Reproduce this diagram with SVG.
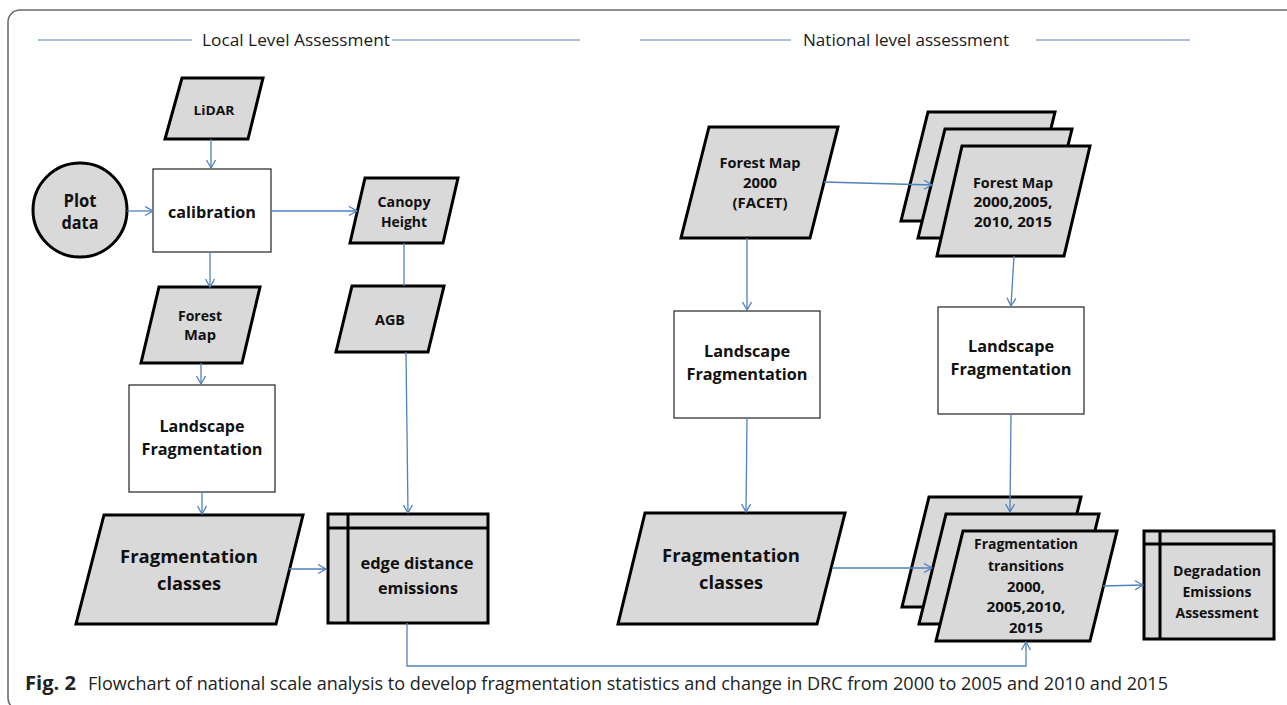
<svg xmlns="http://www.w3.org/2000/svg" width="1287" height="705" viewBox="0 0 1287 705">
  <defs>
    <marker id="arrow" markerUnits="userSpaceOnUse" markerWidth="12" markerHeight="12" refX="9" refY="5" orient="auto">
      <path d="M1,0.5 L9,5 L1,9.5" fill="none" stroke="#4f81bd" stroke-width="1.3"/>
    </marker>
    <style>
      .frame { fill: none; stroke: #6b6b6b; stroke-width: 1.6; }
      .rule { stroke: #4f81bd; stroke-width: 1.1; }
      .head { font-family: "Open Sans", "Liberation Sans", sans-serif; font-size: 16px; fill: #1a1a1a; }
      .data { fill: #d9d9d9; stroke: #000; stroke-width: 3; stroke-linejoin: miter; }
      .proc { fill: #fff; stroke: #333; stroke-width: 1.3; }
      .inner { stroke: #000; stroke-width: 3; }
      .lbl { font-family: "Open Sans", "Liberation Sans", sans-serif; font-weight: bold; fill: #111; text-anchor: middle; }
      .conn { fill: none; stroke: #4f81bd; stroke-width: 1.3; }
      .cap { font-family: "Open Sans", "Liberation Sans", sans-serif; font-size: 19px; fill: #222; }
    </style>
  </defs>

  <rect x="0" y="0" width="1287" height="705" fill="#fff"/>

  <!-- figure frame -->
  <rect class="frame" x="8" y="10" width="1300" height="700" rx="12"/>

  <!-- section headings -->
  <g id="heading-local">
    <line class="rule" x1="38" y1="40" x2="192" y2="40"/>
    <text class="head" x="202" y="46" textLength="188" lengthAdjust="spacingAndGlyphs">Local Level Assessment</text>
    <line class="rule" x1="392" y1="40" x2="580" y2="40"/>
  </g>
  <g id="heading-national">
    <line class="rule" x1="640" y1="40" x2="791" y2="40"/>
    <text class="head" x="803" y="46" textLength="206" lengthAdjust="spacingAndGlyphs">National level assessment</text>
    <line class="rule" x1="1036" y1="40" x2="1190" y2="40"/>
  </g>

  <!-- local level nodes -->
  <g id="lidar">
    <polygon class="data" points="182,78 263,78 248,139 165,139"/>
    <text class="lbl" x="214" y="115" font-size="13" textLength="41" lengthAdjust="spacingAndGlyphs">LiDAR</text>
  </g>
  <g id="plot-data">
    <circle class="data" cx="80" cy="210" r="47"/>
    <text class="lbl" x="80" y="207" font-size="17" textLength="33" lengthAdjust="spacingAndGlyphs">Plot</text>
    <text class="lbl" x="80" y="229" font-size="17" textLength="37" lengthAdjust="spacingAndGlyphs">data</text>
  </g>
  <g id="calibration">
    <rect class="proc" x="153" y="169" width="118" height="83"/>
    <text class="lbl" x="212" y="218" font-size="16.5" textLength="88" lengthAdjust="spacingAndGlyphs">calibration</text>
  </g>
  <g id="canopy-height">
    <polygon class="data" points="365,178 458,178 443,243 350,243"/>
    <text class="lbl" x="404" y="207" font-size="14" textLength="53" lengthAdjust="spacingAndGlyphs">Canopy</text>
    <text class="lbl" x="404" y="227" font-size="14" textLength="46" lengthAdjust="spacingAndGlyphs">Height</text>
  </g>
  <g id="forest-map">
    <polygon class="data" points="159,287 260,287 242,363 141,363"/>
    <text class="lbl" x="200" y="321" font-size="14" textLength="44" lengthAdjust="spacingAndGlyphs">Forest</text>
    <text class="lbl" x="200" y="340" font-size="14" textLength="32" lengthAdjust="spacingAndGlyphs">Map</text>
  </g>
  <g id="agb">
    <polygon class="data" points="352,286 444,286 428,352 336,352"/>
    <text class="lbl" x="390" y="325" font-size="14" textLength="30" lengthAdjust="spacingAndGlyphs">AGB</text>
  </g>
  <g id="landscape-local">
    <rect class="proc" x="129" y="385" width="146" height="107"/>
    <text class="lbl" x="202" y="432" font-size="16" textLength="85" lengthAdjust="spacingAndGlyphs">Landscape</text>
    <text class="lbl" x="202" y="455" font-size="16" textLength="121" lengthAdjust="spacingAndGlyphs">Fragmentation</text>
  </g>
  <g id="fragmentation-classes-local">
    <polygon class="data" points="104,515 303,515 276,624 76,624"/>
    <text class="lbl" x="189" y="563" font-size="18.5" textLength="138" lengthAdjust="spacingAndGlyphs">Fragmentation</text>
    <text class="lbl" x="189" y="590" font-size="18.5" textLength="64" lengthAdjust="spacingAndGlyphs">classes</text>
  </g>
  <g id="edge-distance-emissions">
    <rect class="data" x="328" y="514" width="160" height="109"/>
    <line class="inner" x1="328" y1="528" x2="488" y2="528"/>
    <line class="inner" x1="348" y1="514" x2="348" y2="623"/>
    <text class="lbl" x="417" y="569" font-size="16" textLength="113" lengthAdjust="spacingAndGlyphs">edge distance</text>
    <text class="lbl" x="418" y="594" font-size="16" textLength="80" lengthAdjust="spacingAndGlyphs">emissions</text>
  </g>

  <!-- national level nodes -->
  <g id="forest-map-2000">
    <polygon class="data" points="709,127 838,127 810,238 681,238"/>
    <text class="lbl" x="760" y="168" font-size="14.5" textLength="81" lengthAdjust="spacingAndGlyphs">Forest Map</text>
    <text class="lbl" x="760" y="188" font-size="14.5" textLength="34" lengthAdjust="spacingAndGlyphs">2000</text>
    <text class="lbl" x="760" y="208" font-size="14.5" textLength="55" lengthAdjust="spacingAndGlyphs">(FACET)</text>
  </g>
  <g id="forest-map-series">
    <polygon class="data" points="928,112 1055,112 1028,221 901,221"/>
    <polygon class="data" points="945,129 1072,129 1045,238 918,238"/>
    <polygon class="data" points="962,146 1090,146 1064,256 937,256"/>
    <text class="lbl" x="1013" y="188" font-size="14.5" textLength="80" lengthAdjust="spacingAndGlyphs">Forest Map</text>
    <text class="lbl" x="1013" y="207" font-size="14.5" textLength="79" lengthAdjust="spacingAndGlyphs">2000,2005,</text>
    <text class="lbl" x="1013" y="227" font-size="14.5" textLength="78" lengthAdjust="spacingAndGlyphs">2010, 2015</text>
  </g>
  <g id="landscape-national-2000">
    <rect class="proc" x="674" y="311" width="146" height="107"/>
    <text class="lbl" x="747" y="357" font-size="16" textLength="86" lengthAdjust="spacingAndGlyphs">Landscape</text>
    <text class="lbl" x="747" y="380" font-size="16" textLength="121" lengthAdjust="spacingAndGlyphs">Fragmentation</text>
  </g>
  <g id="landscape-national-series">
    <rect class="proc" x="938" y="307" width="146" height="107"/>
    <text class="lbl" x="1011" y="352" font-size="16" textLength="86" lengthAdjust="spacingAndGlyphs">Landscape</text>
    <text class="lbl" x="1011" y="375" font-size="16" textLength="121" lengthAdjust="spacingAndGlyphs">Fragmentation</text>
  </g>
  <g id="fragmentation-classes-national">
    <polygon class="data" points="645,513 845,513 817,624 618,624"/>
    <text class="lbl" x="731" y="562" font-size="18.5" textLength="138" lengthAdjust="spacingAndGlyphs">Fragmentation</text>
    <text class="lbl" x="731" y="589" font-size="18.5" textLength="64" lengthAdjust="spacingAndGlyphs">classes</text>
  </g>
  <g id="fragmentation-transitions">
    <polygon class="data" points="929,497 1081,497 1054,607 902,607"/>
    <polygon class="data" points="946,514 1099,514 1072,624 919,624"/>
    <polygon class="data" points="963,531 1117,531 1090,641 936,641"/>
    <text class="lbl" x="1026" y="549" font-size="14" textLength="104" lengthAdjust="spacingAndGlyphs">Fragmentation</text>
    <text class="lbl" x="1026" y="571" font-size="14" textLength="76" lengthAdjust="spacingAndGlyphs">transitions</text>
    <text class="lbl" x="1026" y="592" font-size="14" textLength="38" lengthAdjust="spacingAndGlyphs">2000,</text>
    <text class="lbl" x="1026" y="612" font-size="14" textLength="79" lengthAdjust="spacingAndGlyphs">2005,2010,</text>
    <text class="lbl" x="1026" y="633" font-size="14" textLength="34" lengthAdjust="spacingAndGlyphs">2015</text>
  </g>
  <g id="degradation-emissions">
    <rect class="data" x="1144" y="531" width="130" height="108"/>
    <line class="inner" x1="1144" y1="544" x2="1274" y2="544"/>
    <line class="inner" x1="1160" y1="531" x2="1160" y2="639"/>
    <text class="lbl" x="1217" y="576" font-size="14" textLength="88" lengthAdjust="spacingAndGlyphs">Degradation</text>
    <text class="lbl" x="1217" y="597" font-size="14" textLength="69" lengthAdjust="spacingAndGlyphs">Emissions</text>
    <text class="lbl" x="1217" y="618" font-size="14" textLength="83" lengthAdjust="spacingAndGlyphs">Assessment</text>
  </g>

  <!-- connectors -->
  <g id="connectors">
    <path class="conn" d="M211,139 V168" marker-end="url(#arrow)"/>
    <path class="conn" d="M127,211 H153" marker-end="url(#arrow)"/>
    <path class="conn" d="M271,211 H357" marker-end="url(#arrow)"/>
    <path class="conn" d="M210,252 V287" marker-end="url(#arrow)"/>
    <path class="conn" d="M404,243 V286"/>
    <path class="conn" d="M406,352 L408,513" marker-end="url(#arrow)"/>
    <path class="conn" d="M201,363 V384" marker-end="url(#arrow)"/>
    <path class="conn" d="M202,492 V514" marker-end="url(#arrow)"/>
    <path class="conn" d="M289,569 H326" marker-end="url(#arrow)"/>
    <path class="conn" d="M407,623 V666 H1026 V642" marker-end="url(#arrow)"/>
    <path class="conn" d="M824,182 L932,185" marker-end="url(#arrow)"/>
    <path class="conn" d="M747,238 V310" marker-end="url(#arrow)"/>
    <path class="conn" d="M747,418 L746,512" marker-end="url(#arrow)"/>
    <path class="conn" d="M1014,256 L1011,306" marker-end="url(#arrow)"/>
    <path class="conn" d="M1011,414 L1010,512" marker-end="url(#arrow)"/>
    <path class="conn" d="M832,568 H932" marker-end="url(#arrow)"/>
    <path class="conn" d="M1103,586 L1143,585" marker-end="url(#arrow)"/>
  </g>

  <!-- caption -->
  <text class="cap" x="25" y="690" font-weight="bold" textLength="51" lengthAdjust="spacingAndGlyphs">Fig. 2</text>
  <text class="cap" x="88" y="690" textLength="1080" lengthAdjust="spacingAndGlyphs">Flowchart of national scale analysis to develop fragmentation statistics and change in DRC from 2000 to 2005 and 2010 and 2015</text>
</svg>
